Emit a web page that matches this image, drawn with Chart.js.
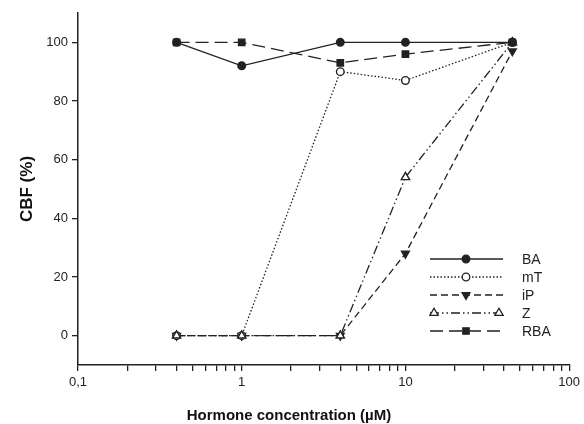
<!DOCTYPE html>
<html>
<head>
<meta charset="utf-8">
<script src="https://cdn.jsdelivr.net/npm/chart.js@4/dist/chart.umd.min.js"></script>
<style>
html,body{margin:0;padding:0;background:#fff;}
#wrap{width:584px;height:424px;position:relative;}
</style>
</head>
<body>
<div id="wrap"><canvas id="c" width="584" height="424"></canvas></div>
<script>
// ---- data ----
const concentrations = [0.4, 1, 4, 10, 45];
const seriesNames = ['BA', 'mT', 'iP', 'Z', 'RBA'];
const baValues  = [100, 92, 100, 100, 100];
const mTValues  = [0, 0, 90, 87, 100];
const iPValues  = [0, 0, 0, 28, 97];
const zValues   = [0, 0, 0, 54, 100];
const rbaValues = [100, 100, 93, 96, 100];
const yTickValues = [0, 20, 40, 60, 80, 100];
const xTickValues = [0.1,0.2,0.3,0.4,0.5,0.6,0.7,0.8,0.9,1,2,3,4,5,6,7,8,9,10,20,30,40,50,60,70,80,90,100];
const xMajorTicks = [0.1, 1, 10, 100];
const xMajorLabels = ['0,1', '1', '10', '100'];
const xTitle = 'Hormone concentration (\u00b5M)';
const yTitle = 'CBF (%)';

// ---- styling ----
const ink = '#222';
const FONT = '"Liberation Sans", Arial, sans-serif';
const styles = [
  {dash: [], pointStyle: 'circle', fill: ink, rot: 0, radius: 3.8, order: 4},
  {dash: [1.5, 2], pointStyle: 'circle', fill: '#fff', rot: 0, radius: 3.8, order: 2},
  {dash: [7, 4], pointStyle: 'triangle', fill: ink, rot: 180, radius: 4.5, order: 3},
  {dash: [9, 3, 1.5, 3, 1.5, 3], pointStyle: 'triangle', fill: '#fff', rot: 0, radius: 4.8, order: 1},
  {dash: [13, 6], pointStyle: 'rect', fill: ink, rot: 0, radius: 4.5, order: 0}
];
const allValues = [baValues, mTValues, iPValues, zValues, rbaValues];

const datasets = allValues.map((vals, i) => ({
  label: seriesNames[i],
  data: concentrations.map((x, j) => ({x: x, y: vals[j]})),
  order: styles[i].order,
  borderColor: ink,
  borderWidth: 1.3,
  borderDash: styles[i].dash,
  pointStyle: styles[i].pointStyle,
  pointRotation: styles[i].rot,
  pointRadius: styles[i].radius,
  pointBackgroundColor: styles[i].fill,
  pointBorderColor: ink,
  pointBorderWidth: 1.4,
  tension: 0,
  fill: false
}));

function drawMarker(ctx, st, x, y) {
  ctx.save();
  ctx.setLineDash([]);
  ctx.fillStyle = st.fill;
  ctx.strokeStyle = ink;
  ctx.lineWidth = 1.3;
  const r = st.radius;
  ctx.beginPath();
  if (st.pointStyle === 'circle') {
    ctx.arc(x, y, r, 0, Math.PI * 2);
  } else if (st.pointStyle === 'rect') {
    const s = r * Math.SQRT1_2 * 2;
    ctx.rect(x - s / 2, y - s / 2, s, s);
  } else {
    if (st.rot === 180) {
      ctx.moveTo(x - r * 0.87, y - r * 0.5);
      ctx.lineTo(x + r * 0.87, y - r * 0.5);
      ctx.lineTo(x, y + r);
    } else {
      ctx.moveTo(x - r * 0.87, y + r * 0.5);
      ctx.lineTo(x + r * 0.87, y + r * 0.5);
      ctx.lineTo(x, y - r);
    }
    ctx.closePath();
  }
  ctx.fill();
  ctx.stroke();
  ctx.restore();
}

const legendPlugin = {
  id: 'boxLegend',
  afterDraw(chart) {
    const ctx = chart.ctx;
    const x0 = 430, x1 = 503, xm = 466, xt = 522, yStart = 259, dy = 18;
    chart.data.datasets.forEach((ds, i) => {
      const st = styles[i];
      const y = yStart + i * dy;
      ctx.save();
      ctx.strokeStyle = ink;
      ctx.lineWidth = 1.3;
      ctx.setLineDash(st.dash);
      ctx.beginPath();
      ctx.moveTo(x0, y);
      ctx.lineTo(x1, y);
      ctx.stroke();
      ctx.restore();
      if (i === 3) {
        drawMarker(ctx, st, x0 + 4, y);
        drawMarker(ctx, st, x1 - 4, y);
      } else {
        drawMarker(ctx, st, xm, y);
      }
      ctx.save();
      ctx.fillStyle = ink;
      ctx.font = '14px ' + FONT;
      ctx.textBaseline = 'middle';
      ctx.textAlign = 'left';
      ctx.fillText(ds.label, xt, y + 1);
      ctx.restore();
    });
    // x-axis title (offset left of plot centre, as in the original figure)
    ctx.save();
    ctx.fillStyle = '#111';
    ctx.font = 'bold 15px ' + FONT;
    ctx.textAlign = 'center';
    ctx.textBaseline = 'middle';
    ctx.fillText(xTitle, 289, 416);
    ctx.restore();
  }
};

new Chart(document.getElementById('c'), {
  type: 'line',
  data: {datasets: datasets},
  plugins: [legendPlugin],
  options: {
    responsive: false,
    animation: false,
    events: [],
    layout: {padding: {left: 0, top: 13, right: 14, bottom: 0}},
    plugins: {legend: {display: false}, tooltip: {enabled: false}},
    scales: {
      x: {
        type: 'logarithmic',
        min: 0.1,
        max: 100,
        afterBuildTicks(scale) { scale.ticks = xTickValues.map(v => ({value: v})); },
        afterFit(scale) { scale.height = 59; },
        border: {display: true, color: ink, width: 1.5},
        grid: {drawOnChartArea: false, drawTicks: true, tickLength: 6, color: ink, lineWidth: 1.3},
        ticks: {
          autoSkip: false,
          maxRotation: 0,
          padding: 4,
          color: ink,
          font: {family: FONT, size: 13},
          callback(value) {
            const k = xMajorTicks.findIndex(t => Math.abs(t - value) < 1e-9);
            return k >= 0 ? xMajorLabels[k] : '';
          }
        },
        title: {display: false}
      },
      y: {
        type: 'linear',
        min: -10,
        max: 110,
        afterBuildTicks(scale) { scale.ticks = yTickValues.map(v => ({value: v})); },
        afterFit(scale) { scale.width = 78; },
        border: {display: true, color: ink, width: 1.5},
        grid: {drawOnChartArea: false, drawTicks: true, tickLength: 6, color: ink, lineWidth: 1.3},
        ticks: {
          padding: 4,
          color: ink,
          font: {family: FONT, size: 13}
        },
        title: {
          display: true,
          text: yTitle,
          color: '#111',
          font: {family: FONT, size: 17, weight: 'bold'},
          padding: {top: 17, bottom: 0}
        }
      }
    }
  }
});
</script>
</body>
</html>
